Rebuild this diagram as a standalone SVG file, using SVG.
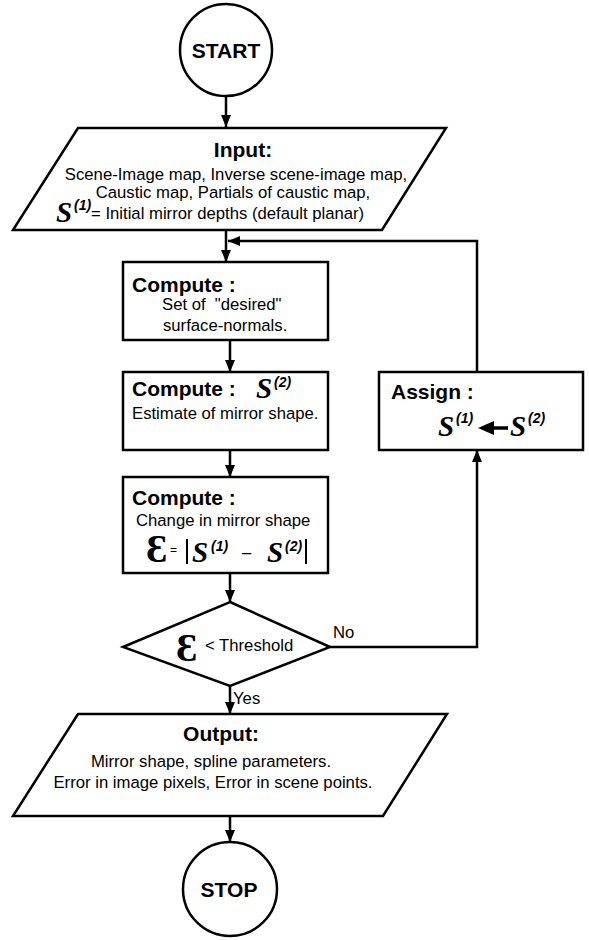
<svg xmlns="http://www.w3.org/2000/svg" width="589" height="940" viewBox="0 0 589 940">
<defs>
<marker id="ah" viewBox="0 0 12 10" refX="12" refY="5" markerWidth="12" markerHeight="10" markerUnits="userSpaceOnUse" orient="auto">
<path d="M0,0 L12,5 L0,10 Z" fill="#000"/>
</marker>
<style>
.sh{fill:#fff;stroke:#000;stroke-width:2.5}
.ln{fill:none;stroke:#000;stroke-width:2.5}
.hd{font-family:"Liberation Sans",Arial,sans-serif;font-weight:bold;font-size:21px;fill:#000}
.tx{font-family:"Liberation Sans",Arial,sans-serif;font-size:16.7px;fill:#000}
.S{font-family:"Liberation Serif","Times New Roman",serif;font-style:italic;font-weight:bold;font-size:29px;fill:#000}
.sup{font-family:"Liberation Sans",Arial,sans-serif;font-style:italic;font-weight:bold;font-size:14px;fill:#000}
.eps{font-family:"Liberation Serif","Times New Roman",serif;font-weight:bold;font-size:40px;fill:#000}
</style>
</defs>
<g id="connectors">
<line class="ln" x1="226" y1="97" x2="226" y2="127" marker-end="url(#ah)"/>
<line class="ln" x1="226" y1="230" x2="226" y2="262" marker-end="url(#ah)"/>
<line class="ln" x1="230" y1="340" x2="230" y2="372" marker-end="url(#ah)"/>
<line class="ln" x1="230" y1="450" x2="230" y2="477" marker-end="url(#ah)"/>
<line class="ln" x1="230" y1="573" x2="230" y2="602" marker-end="url(#ah)"/>
<line class="ln" x1="230" y1="686" x2="230" y2="714" marker-end="url(#ah)"/>
<line class="ln" x1="230" y1="816" x2="230" y2="842" marker-end="url(#ah)"/>
<polyline class="ln" points="330,647 477,647 477,450" marker-end="url(#ah)"/>
<polyline class="ln" points="477,372 477,241 228,241" marker-end="url(#ah)"/>
<text class="tx" x="333" y="638">No</text>
<text class="tx" x="233" y="704">Yes</text>
</g>
<g id="start">
<circle class="sh" cx="226" cy="50" r="46"/>
<text class="hd" x="226" y="58" text-anchor="middle">START</text>
</g>
<g id="input">
<polygon class="sh" points="78,128 446,128 382,230 13,230"/>
<text class="hd" x="243" y="157" text-anchor="middle">Input:</text>
<text class="tx" x="236" y="180" text-anchor="middle">Scene-Image map, Inverse scene-image map,</text>
<text class="tx" x="233" y="198" text-anchor="middle">Caustic map, Partials of caustic map,</text>
<text class="S" x="56" y="222">S</text>
<text class="sup" x="74" y="210">(1)</text>
<text class="tx" x="91" y="219">= Initial mirror depths (default planar)</text>
</g>
<g id="compute1">
<rect class="sh" x="123" y="262" width="205" height="78"/>
<text class="hd" x="132" y="292">Compute :</text>
<text class="tx" x="162" y="310" xml:space="preserve">Set of  "desired"</text>
<text class="tx" x="163" y="331">surface-normals.</text>
</g>
<g id="compute2">
<rect class="sh" x="123" y="372" width="205" height="78"/>
<text class="hd" x="132" y="396">Compute :</text>
<text class="S" x="256" y="398">S</text>
<text class="sup" x="274" y="387">(2)</text>
<text class="tx" x="132" y="419">Estimate of mirror shape.</text>
</g>
<g id="compute3">
<rect class="sh" x="123" y="477" width="205" height="96"/>
<text class="hd" x="132" y="505">Compute :</text>
<text class="tx" x="136" y="526">Change in mirror shape</text>
<text class="eps" x="146" y="562">Ɛ</text>
<text class="tx" x="170" y="554" style="font-size:12px">=</text>
<line x1="187" y1="539" x2="187" y2="564" stroke="#000" stroke-width="2"/>
<text class="S" x="192" y="562">S</text>
<text class="sup" x="211" y="551">(1)</text>
<text class="tx" x="242" y="558">–</text>
<text class="S" x="267" y="562">S</text>
<text class="sup" x="285" y="551">(2)</text>
<line x1="306" y1="539" x2="306" y2="564" stroke="#000" stroke-width="2"/>
</g>
<g id="decision">
<polygon class="sh" points="230,602 330,647 230,686 123,647"/>
<text class="eps" x="176" y="661">Ɛ</text>
<text class="tx" x="205" y="651">&lt; Threshold</text>
</g>
<g id="assign">
<rect class="sh" x="379" y="372" width="204" height="78"/>
<text class="hd" x="391" y="399">Assign :</text>
<text class="S" x="438" y="436">S</text>
<text class="sup" x="456" y="423">(1)</text>
<line x1="508" y1="428" x2="490" y2="428" stroke="#000" stroke-width="3.5"/>
<path d="M478,428 L494,421 L494,435 Z" fill="#000"/>
<text class="S" x="510" y="436">S</text>
<text class="sup" x="528" y="423">(2)</text>
</g>
<g id="output">
<polygon class="sh" points="78,714 447,714 383,816 13,816"/>
<text class="hd" x="221" y="741" text-anchor="middle">Output:</text>
<text class="tx" x="211" y="767" text-anchor="middle">Mirror shape, spline parameters.</text>
<text class="tx" x="213" y="788" text-anchor="middle">Error in image pixels, Error in scene points.</text>
</g>
<g id="stop">
<circle class="sh" cx="230" cy="889" r="47"/>
<text class="hd" x="229" y="897" text-anchor="middle">STOP</text>
</g>
</svg>
